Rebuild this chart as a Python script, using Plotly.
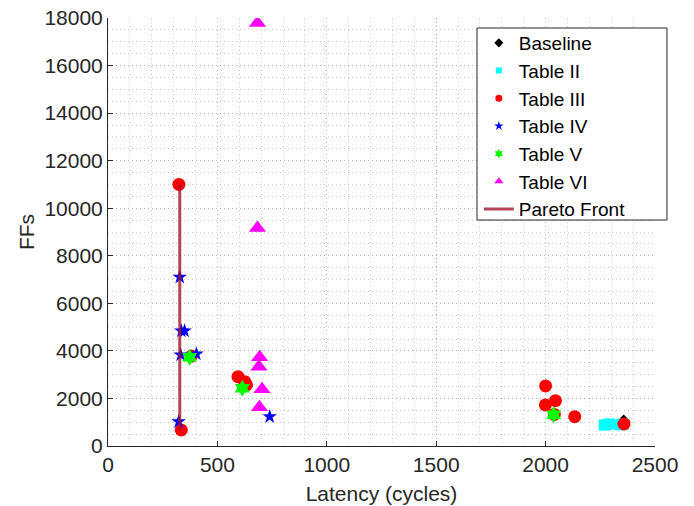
import plotly.graph_objects as go

# ---- data ----
baseline_x = [2357]
baseline_y = [1050]

t2_x = [2268, 2280, 2290, 2338, 2348, 2355]
t2_y = [880, 900, 930, 890, 910, 930]

t3_x = [324, 335, 381, 594, 625, 633, 2000, 2045, 1999, 2040, 2133, 2358]
t3_y = [11000, 673, 3780, 2917, 2706, 2567, 2525, 1907, 1726, 1330, 1233, 926]

t4_x = [328, 335, 350, 332, 404, 323, 739]
t4_y = [7100, 4840, 4840, 3830, 3870, 1023, 1233]

t5_x = [373, 614, 2037]
t5_y = [3733, 2428, 1317]

t6_x = [683, 683, 693, 690, 704, 692]
t6_y = [17790, 9163, 3733, 3337, 2386, 1629]

pareto_x = [328, 328]
pareto_y = [673, 11000]

x_ticks = [0, 500, 1000, 1500, 2000, 2500]
y_ticks = [0, 2000, 4000, 6000, 8000, 10000, 12000, 14000, 16000, 18000]

FONT = "Liberation Sans, Arial, Helvetica, sans-serif"
TXT = "#262626"

fig = go.Figure()

series = [
    (baseline_x, baseline_y, "Baseline", "diamond", "#000000", 10, 7),
    (t2_x, t2_y, "Table II", "square", "#00FFFF", 11, 6),
    (t3_x, t3_y, "Table III", "circle", "#FF0000", 13, 7),
    (t4_x, t4_y, "Table IV", "star", "#0000FF", 11, 7),
    (t5_x, t5_y, "Table V", "hexagram", "#00FF00", 13, 7),
    (t6_x, t6_y, "Table VI", "triangle-up", "#FF00FF", 15, 8),
]

for x, y, name, symbol, color, size, lsize in series:
    fig.add_trace(go.Scatter(
        x=x, y=y, mode="markers", name=name, showlegend=False,
        marker=dict(symbol=symbol, color=color, size=size, line=dict(width=0)),
    ))

PARETO_COLOR = "rgba(162,20,47,0.8)"
fig.add_trace(go.Scatter(
    x=pareto_x, y=pareto_y, mode="lines", name="Pareto Front", showlegend=False,
    line=dict(color=PARETO_COLOR, width=3),
))

# legend entries (small markers, like the reference legend)
for x, y, name, symbol, color, size, lsize in series:
    fig.add_trace(go.Scatter(
        x=[None], y=[None], mode="markers", name=name,
        marker=dict(symbol=symbol, color=color, size=lsize, line=dict(width=0)),
    ))
fig.add_trace(go.Scatter(
    x=[None], y=[None], mode="lines", name="Pareto Front",
    line=dict(color=PARETO_COLOR, width=3),
))

GRID = "rgba(160,160,160,0.55)"
axis_common = dict(
    showline=True, linecolor="#262626", linewidth=1, mirror=False,
    ticks="inside", ticklen=5, tickcolor="#262626",
    showgrid=True, gridcolor=GRID, griddash="1px,3px",
    gridwidth=1, zeroline=False, automargin=False,
    ticklabeloverflow="allow",
    tickfont=dict(family=FONT, size=21, color=TXT),
)

fig.update_layout(
    width=694, height=506,
    margin=dict(l=108, r=39, t=18, b=60),
    paper_bgcolor="white", plot_bgcolor="white",
    font=dict(family=FONT, size=21, color=TXT),
    xaxis=dict(
        range=[0, 2500], tickvals=x_ticks, ticktext=[str(v) for v in x_ticks],
        title=dict(text="Latency (cycles)", font=dict(family=FONT, size=21, color=TXT), standoff=11),
        minor=dict(dtick=100, showgrid=True, gridcolor=GRID, griddash="1px,3px", ticks=""),
        **axis_common,
    ),
    yaxis=dict(
        range=[0, 18000], tickvals=y_ticks, ticktext=[str(v) for v in y_ticks],
        title=dict(text="FFs", font=dict(family=FONT, size=21, color=TXT), standoff=4),
        minor=dict(dtick=500, showgrid=True, gridcolor=GRID, griddash="1px,3px", ticks=""),
        **axis_common,
    ),
    legend=dict(
        x=0.678, y=0.986, xanchor="left", yanchor="top",
        bgcolor="rgba(0,0,0,0)", borderwidth=0,
        font=dict(family=FONT, size=19, color="#000000"),
        itemsizing="trace", tracegroupgap=0, itemwidth=30,
    ),
    shapes=[dict(
        type="rect", xref="paper", yref="paper", layer="above",
        x0=0.6746, x1=1.0219, y0=0.528, y1=0.9766,
        fillcolor="white", line=dict(color="#262626", width=1),
    )],
    showlegend=True,
)

fig.write_html("out.html", config={"displayModeBar": False},
               post_script="document.body.style.margin='0';")
